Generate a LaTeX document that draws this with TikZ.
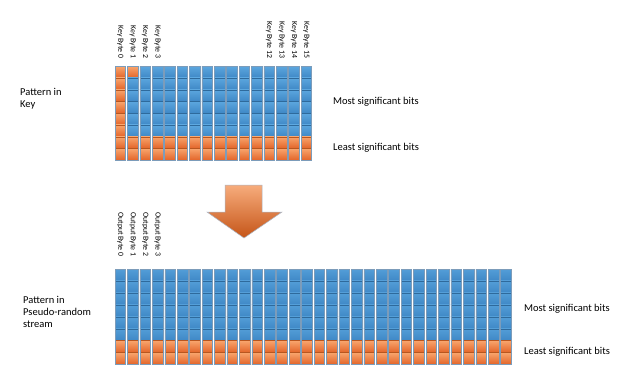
\documentclass[tikz,border=0pt]{standalone}
\usepackage{fontspec}
\setmainfont{Carlito}
\definecolor{blT}{HTML}{5CA7DF}
\definecolor{blB}{HTML}{3F88C6}
\definecolor{orT}{HTML}{F9A66E}
\definecolor{orB}{HTML}{E3652A}
\definecolor{blDiv}{HTML}{2E6A9C}
\definecolor{orDiv}{HTML}{B8561F}
\definecolor{colEdge}{HTML}{7C9CBA}
\definecolor{arrT}{HTML}{F7AC7C}
\definecolor{arrB}{HTML}{C55518}
\definecolor{arrEdge}{HTML}{A9B6C6}
\tikzset{
  bytelabel/.style={rotate=-90, inner sep=0pt, font=\fontsize{7.8}{9}\selectfont},
  maintext/.style={inner sep=0pt, align=left, font=\fontsize{10.5}{12}\selectfont},
  coledge/.style={draw=colEdge, line width=0.5pt},
}
\begin{document}
\begin{tikzpicture}[x=1pt,y=-1pt]
\useasboundingbox (0,0) rectangle (623,372);
\fill[white] (0,0) rectangle (623,372);

% ---------- key grid: 16 columns x 8 rows ----------
\foreach \i in {0,...,15}{
  \pgfmathsetmacro\xa{115+12.4*\i}
  \foreach \j in {0,...,7}{
    \pgfmathsetmacro\ya{66+11.75*\j}
    \pgfmathtruncatemacro\isor{or(\j>5, or(\i==0, and(\i==1,\j==0)))}
    \ifnum\isor=1 \def\ct{orT}\def\cb{orB}\def\cd{orDiv}\else\def\ct{blT}\def\cb{blB}\def\cd{blDiv}\fi
    \shade[top color=\ct, bottom color=\cb] (\xa,\ya) rectangle ++(10.6,11.75);
    \draw[\cd, line width=0.7pt] (\xa,\ya+0.35) -- ++(10.6,0);
  }
  \draw[coledge] (\xa,66) rectangle ++(10.6,94);
}

% ---------- stream grid: 32 columns x 8 rows ----------
\foreach \i in {0,...,31}{
  \pgfmathsetmacro\xa{115+12.44*\i}
  \foreach \j in {0,...,7}{
    \pgfmathsetmacro\ya{269+11.9*\j}
    \ifnum\j>5 \def\ct{orT}\def\cb{orB}\def\cd{orDiv}\else\def\ct{blT!70!blB}\def\cb{blB}\def\cd{blDiv}\fi
    \shade[top color=\ct, bottom color=\cb] (\xa,\ya) rectangle ++(10.6,11.9);
    \draw[\cd, line width=0.7pt] (\xa,\ya+0.35) -- ++(10.6,0);
  }
  \draw[coledge] (\xa,269) rectangle ++(10.6,95.2);
}

% ---------- byte labels ----------
\foreach \i/\t in {0/Key Byte 0,1/Key Byte 1,2/Key Byte 2,3/Key Byte 3,12/Key Byte 12,13/Key Byte 13,14/Key Byte 14,15/Key Byte 15}{
  \node[bytelabel, anchor=east] (kb\i) at ({115+12.4*\i+5.3},58.5) {\t};
}
\foreach \i/\t in {0/Output Byte 0,1/Output Byte 1,2/Output Byte 2,3/Output Byte 3}{
  \node[bytelabel, anchor=west] (ob\i) at ({115+12.44*\i+5.3},212) {\t};
}

% ---------- arrow ----------
\shade[top color=arrT, bottom color=arrB, draw=arrEdge, line width=0.5pt]
  (225,185) -- (262,185) -- (262,212) -- (282,212) -- (244,238) -- (207,212) -- (225,212) -- cycle;

% ---------- texts ----------
\node[maintext, anchor=north west] (pkey) at (20,88) {Pattern in\\Key};
\node[maintext, anchor=north west] (pstream) at (23,296) {Pattern in\\Pseudo-random\\stream};
\node[maintext, anchor=base west] (msb1) at (333,104.5) {Most significant bits};
\node[maintext, anchor=base west] (lsb1) at (333,150.5) {Least significant bits};
\node[maintext, anchor=base west] (msb2) at (524,311) {Most significant bits};
\node[maintext, anchor=base west] (lsb2) at (524,354.5) {Least significant bits};
\end{tikzpicture}
\end{document}
